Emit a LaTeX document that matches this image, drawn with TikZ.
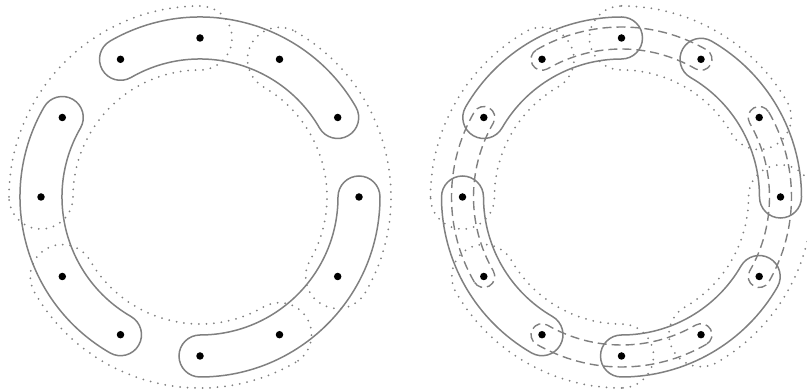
\documentclass[tikz,border=0pt]{standalone}
\usepackage{tikz}

% band round the ring from angle #2 to angle #3 (clockwise), half width #4
\newcommand{\hband}[5]{%
\draw[#5] (#1) ++(#2:159pt+#4pt) arc[start angle=#2,end angle=#3,radius=159pt+#4pt]
  arc[start angle=#3,end angle=#3-180,radius=#4pt]
  arc[start angle=#3,end angle=#2,radius=159pt-#4pt]
  arc[start angle=#2+180,end angle=#2,radius=#4pt] -- cycle;}

\begin{document}
\begin{tikzpicture}[x=1pt,y=1pt,
vtx/.style={circle,fill=black,inner sep=0pt,minimum size=7.5pt},
solidband/.style={draw=gray,line width=1.5pt},
dotband/.style={draw=gray,line width=2pt,line cap=round,dash pattern=on 0pt off 7.5pt},
dashband/.style={draw=gray,line width=1.4pt,dash pattern=on 9pt off 5pt}]
\useasboundingbox (0,0) rectangle (807,391);
\coordinate (lc) at (200,194);
\coordinate (rc) at (621.5,194);
% left ring
\hband{lc}{180}{90}{32}{dotband}
\hband{lc}{60}{-30}{32}{dotband}
\hband{lc}{300}{210}{32}{dotband}
\hband{lc}{120}{30}{21}{solidband}
\hband{lc}{0}{-90}{21}{solidband}
\hband{lc}{240}{150}{21}{solidband}
% right ring
\hband{rc}{180}{120}{32}{dotband}
\hband{rc}{90}{30}{32}{dotband}
\hband{rc}{0}{-60}{32}{dotband}
\hband{rc}{-90}{-150}{32}{dotband}
\hband{rc}{150}{90}{21}{solidband}
\hband{rc}{60}{0}{21}{solidband}
\hband{rc}{-30}{-90}{21}{solidband}
\hband{rc}{240}{180}{21}{solidband}
\hband{rc}{120}{60}{11}{dashband}
\hband{rc}{30}{-30}{11}{dashband}
\hband{rc}{-60}{-120}{11}{dashband}
\hband{rc}{210}{150}{11}{dashband}
% vertices
\foreach \i in {0,...,11} {
  \path (lc) ++(90-30*\i:159pt) node[vtx] (l\i) {};
  \path (rc) ++(90-30*\i:159pt) node[vtx] (r\i) {};
}
\end{tikzpicture}
\end{document}
